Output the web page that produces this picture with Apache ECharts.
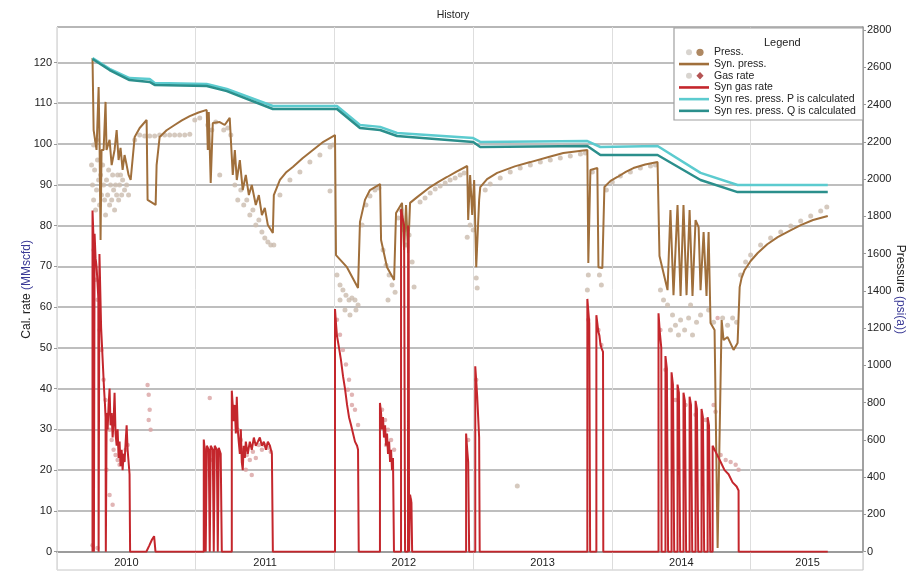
<!DOCTYPE html>
<html><head><meta charset="utf-8">
<script src="https://cdn.jsdelivr.net/npm/echarts@6/dist/echarts.min.js"></script>
<style>html,body{margin:0;padding:0;background:#fff}#c{width:906px;height:573px}</style>
</head><body><div id="c"></div>
<script>
// ---- tick labels ----
const yearLabels = ['2010','2011','2012','2013','2014','2015'];
const yearLabelPos = [2010.5, 2011.5, 2012.5, 2013.5, 2014.5, 2015.41];
const xMin = 2010, xMax = 2015.81;
const rateMax = 128.7, pressMax = 2816;

// ---- Syn gas rate (MMscfd) [year, rate] ----
const synGasRate = [
[2010.256,0],[2010.256,83.7],[2010.260,80],[2010.264,76],[2010.266,0],[2010.270,0],[2010.271,78],[2010.278,72],[2010.285,70],[2010.292,66],[2010.298,62],[2010.300,0],[2010.304,0],[2010.306,73],[2010.312,64],[2010.318,55],[2010.325,50],[2010.332,45],[2010.339,40],[2010.346,36],[2010.350,33],[2010.352,0],[2010.357,0],[2010.358,34],[2010.365,30],[2010.372,36],[2010.379,40],[2010.386,31],[2010.394,34],[2010.401,28],[2010.408,32],[2010.415,39],[2010.422,29],[2010.430,26],[2010.437,30],[2010.444,23],[2010.451,27],[2010.458,21],[2010.466,25],[2010.473,20],[2010.480,24],[2010.487,22],[2010.495,27],[2010.502,31],[2010.509,25],[2010.516,22],[2010.523,19],[2010.527,0],
[2010.644,0],[2010.665,1.5],[2010.685,3],[2010.700,3.8],[2010.710,0],
[2011.058,0],[2011.058,27.5],[2011.065,25],[2011.072,0],[2011.080,0],[2011.080,26],[2011.094,25],[2011.101,0],[2011.108,0],[2011.108,26],[2011.123,25],[2011.130,0],[2011.137,0],[2011.137,26],[2011.152,25],[2011.159,0],[2011.166,0],[2011.166,25.5],[2011.180,24],[2011.188,0],
[2011.260,0],[2011.260,39.5],[2011.274,32],[2011.281,36],[2011.289,29],[2011.296,38],[2011.303,30],[2011.310,27],[2011.318,24],[2011.325,30],[2011.332,22],[2011.339,20],[2011.346,26],[2011.354,23],[2011.361,27],[2011.375,24],[2011.390,27],[2011.404,25],[2011.419,28],[2011.433,26],[2011.448,27],[2011.462,28],[2011.477,26],[2011.491,27],[2011.506,25],[2011.520,27],[2011.535,26],[2011.549,24],[2011.556,0],
[2012.004,0],[2012.004,59.5],[2012.011,56],[2012.018,53],[2012.033,50],[2012.047,47],[2012.062,43],[2012.076,40],[2012.091,36],[2012.105,33],[2012.120,31],[2012.134,29],[2012.148,27],[2012.163,26],[2012.170,25],[2012.175,0],
[2012.328,0],[2012.328,36.5],[2012.336,34],[2012.343,30],[2012.350,33],[2012.357,28],[2012.365,31],[2012.372,26],[2012.379,29],[2012.386,24],[2012.394,27],[2012.401,22],[2012.408,25],[2012.415,20],[2012.422,23],[2012.429,0],
[2012.480,0],[2012.480,84],[2012.490,82],[2012.502,80],[2012.509,0],[2012.530,0],[2012.531,80],[2012.535,75],[2012.538,0],[2012.545,0],[2012.545,14],[2012.555,12],[2012.560,0],
[2012.949,0],[2012.949,29],[2012.957,25],[2012.964,22],[2012.971,0],[2013.015,0],[2013.015,45.5],[2013.022,42],[2013.029,38],[2013.036,33],[2013.043,28],[2013.047,0],
[2013.823,0],[2013.823,62],[2013.830,59],[2013.837,56],[2013.843,0],[2013.888,0],[2013.888,58],[2013.895,56],[2013.902,54],[2013.910,53],[2013.917,51],[2013.924,50],[2013.936,49],[2013.938,0],
[2014.336,0],[2014.336,58.5],[2014.345,54],[2014.356,50],[2014.358,0],
[2014.386,0],[2014.386,48],[2014.396,45],[2014.405,0],
[2014.430,0],[2014.430,44],[2014.440,41],[2014.449,0],
[2014.473,0],[2014.473,41],[2014.483,39],[2014.492,0],
[2014.516,0],[2014.516,39],[2014.526,37],[2014.535,0],
[2014.560,0],[2014.560,38],[2014.570,36],[2014.579,0],
[2014.603,0],[2014.603,37],[2014.613,35],[2014.622,0],
[2014.646,0],[2014.646,35],[2014.656,33],[2014.665,0],
[2014.690,0],[2014.690,33],[2014.700,31],[2014.709,0],
[2014.726,0],[2014.726,26],[2014.755,24],[2014.784,22],[2014.812,20],[2014.841,19],[2014.870,17],[2014.899,16],[2014.913,15],[2014.914,0],[2015.556,0]
];

// ---- Gas rate observations (MMscfd) ----
const gasRateObs = [
[2010.256,1.6],[2010.264,74],[2010.278,66.7],[2010.292,61.8],[2010.307,54.4],[2010.321,49.5],[2010.336,42.2],[2010.350,37.2],[2010.365,33.6],[2010.379,29.9],[2010.394,27.4],[2010.408,25.0],[2010.422,23.7],[2010.437,22.5],[2010.451,21.3],[2010.466,23.7],[2010.480,22.5],[2010.495,25.0],[2010.509,26.2],[2010.379,13.9],[2010.401,11.5],[2010.357,20.1],[2010.292,0.9],
[2010.653,40.9],[2010.661,38.5],[2010.668,34.8],[2010.675,29.9],[2010.661,32.3],
[2011.101,37.7],[2011.072,25.0],[2011.123,22.5],[2011.166,23.7],
[2011.282,34.8],[2011.303,29.9],[2011.325,27.4],[2011.346,25.0],[2011.368,23.7],[2011.390,22.5],[2011.412,24.5],[2011.433,23.0],[2011.455,26.2],[2011.477,25.0],[2011.498,26.2],[2011.520,25.5],[2011.541,24.5],[2011.361,20.1],[2011.404,18.8],
[2012.018,56.9],[2012.040,53.2],[2012.061,49.5],[2012.083,45.9],[2012.105,42.2],[2012.126,38.5],[2012.148,34.8],[2012.170,31.1],[2012.097,39.7],[2012.126,36.0],
[2012.343,34.8],[2012.365,32.3],[2012.386,29.9],[2012.408,27.4],[2012.430,25.0],[2012.372,26.2],
[2012.545,12.7],[2012.964,27.4],[2013.022,42.2],
[2013.830,56.9],[2013.903,54.4],[2013.924,50.7],
[2014.350,54.4],[2014.386,44.6],[2014.458,37.2],[2014.531,36.0],[2014.603,33.6],[2014.675,32.3],[2014.733,36.0],[2014.747,34.3],[2014.762,57.3],[2014.784,23.7],[2014.820,22.5],[2014.856,22.0],[2014.892,21.3],[2014.913,20.1]
];

// ---- Syn. press. (psia) ----
const synPress = [
[2010.256,2650],[2010.264,2263],[2010.285,2156],[2010.300,2494],[2010.307,2183],[2010.314,1673],[2010.321,2156],[2010.336,2156],[2010.350,2414],[2010.357,2156],[2010.379,2210],[2010.394,2075],[2010.415,2156],[2010.430,2263],[2010.444,2102],[2010.458,2167],[2010.473,2049],[2010.487,2129],[2010.502,2075],[2010.516,2022],[2010.531,1995],[2010.560,2226],[2010.596,2274],[2010.646,2317],[2010.653,1888],[2010.711,1861],[2010.718,2075],[2010.740,2226],[2010.790,2262],[2010.848,2290],[2010.900,2315],[2010.957,2338],[2011.020,2357],[2011.079,2371],
[2011.087,2156],[2011.094,2360],[2011.108,1979],[2011.123,2301],[2011.173,2306],[2011.209,2290],[2011.245,2328],[2011.267,2022],[2011.282,2156],[2011.296,1995],[2011.318,2102],[2011.339,1941],[2011.361,2022],[2011.383,1914],[2011.404,1968],[2011.433,1861],[2011.455,1914],[2011.477,1807],[2011.498,1845],[2011.520,1753],[2011.556,1711],
[2011.563,1914],[2011.607,1995],[2011.650,2035],[2011.700,2065],[2011.770,2112],[2011.845,2156],[2011.920,2200],[2012.004,2236],
[2012.011,1592],[2012.090,1527],[2012.170,1415],[2012.184,1770],[2012.220,1888],[2012.256,1941],[2012.329,1973],[2012.336,1673],[2012.379,1527],[2012.430,1458],[2012.444,1818],[2012.487,1872],[2012.502,1619],[2012.516,1861],[2012.531,1603],[2012.545,1872],
[2012.596,1903],[2012.690,1957],[2012.750,1985],[2012.812,2011],[2012.880,2040],[2012.957,2070],
[2012.964,1780],[2012.978,2022],[2012.993,1807],[2013.007,1995],[2013.022,1527],[2013.043,1888],
[2013.051,1957],[2013.100,2000],[2013.173,2033],[2013.300,2068],[2013.412,2091],[2013.550,2120],[2013.650,2140],[2013.823,2156],
[2013.830,1549],[2013.845,2049],[2013.895,2059],[2013.903,1527],[2013.931,1522],
[2013.946,1957],[2013.990,1990],[2014.040,2011],[2014.100,2038],[2014.155,2059],[2014.240,2078],[2014.329,2091],
[2014.343,1587],[2014.401,1404],[2014.422,1834],[2014.444,1377],[2014.473,1861],[2014.495,1372],[2014.516,1861],[2014.538,1377],[2014.560,1834],[2014.581,1372],[2014.603,1780],[2014.625,1742],[2014.639,1404],[2014.661,1716],[2014.682,1372],[2014.697,1716],[2014.711,1227],[2014.740,1190],[2014.762,20],[2014.776,20],[2014.791,1243],[2014.805,1136],[2014.834,1152],[2014.877,1083],[2014.906,1120],
[2014.921,1420],[2014.935,1470],[2014.957,1512],[2015.000,1560],[2015.051,1603],[2015.120,1650],[2015.195,1688],[2015.280,1722],[2015.361,1753],[2015.450,1780],[2015.556,1802]
];

// ---- Press. observations (psia) ----
const pressObs = [
[2010.249,2075],[2010.256,1968],[2010.264,1888],[2010.271,2049],[2010.278,1834],[2010.285,1941],[2010.292,2102],[2010.300,1995],[2010.307,1861],[2010.314,2022],[2010.321,1914],[2010.329,2075],[2010.336,1968],[2010.343,1888],[2010.350,1807],[2010.357,1995],[2010.365,1914],[2010.372,2049],[2010.379,1861],[2010.386,1968],[2010.394,1888],[2010.401,2022],[2010.408,1941],[2010.415,1834],[2010.422,1968],[2010.430,1914],[2010.437,2022],[2010.444,1888],[2010.451,1968],[2010.458,2022],[2010.466,1914],[2010.473,1995],[2010.487,1941],[2010.502,1968],[2010.516,1914],[2010.264,2183],[2010.285,2210],
[2010.560,2210],[2010.596,2236],[2010.632,2231],[2010.668,2231],[2010.704,2231],[2010.740,2236],[2010.776,2236],[2010.812,2236],[2010.848,2236],[2010.884,2236],[2010.921,2236],[2010.957,2241],[2010.993,2317],[2011.029,2328],
[2011.087,2290],[2011.116,2263],[2011.144,2306],[2011.173,2022],[2011.202,2263],[2011.231,2274],[2011.253,2236],
[2011.282,1968],[2011.303,1888],[2011.325,1941],[2011.346,1861],[2011.368,1888],[2011.390,1807],[2011.412,1834],[2011.433,1753],[2011.455,1780],[2011.477,1716],[2011.498,1683],[2011.520,1662],[2011.541,1646],[2011.563,1646],
[2011.607,1914],[2011.679,1995],[2011.751,2038],[2011.823,2091],[2011.895,2129],[2011.968,2172],[2011.989,2183],[2011.968,1936],
[2012.018,1485],[2012.040,1431],[2012.061,1404],[2012.083,1377],[2012.105,1351],[2012.126,1361],[2012.148,1351],[2012.170,1324],[2012.076,1297],[2012.112,1270],[2012.155,1297],[2012.040,1351],
[2012.199,1753],[2012.227,1861],[2012.256,1909],[2012.292,1941],[2012.321,1952],
[2012.350,1619],[2012.372,1538],[2012.394,1485],[2012.415,1431],[2012.437,1393],[2012.386,1351],
[2012.459,1791],[2012.480,1834],[2012.502,1727],[2012.516,1646],[2012.538,1700],[2012.560,1555],[2012.574,1420],
[2012.617,1877],[2012.653,1898],[2012.690,1925],[2012.726,1946],[2012.762,1962],[2012.798,1979],[2012.834,1995],[2012.870,2006],[2012.906,2022],[2012.935,2033],
[2012.957,1688],[2012.978,1753],[2013.000,1727],[2013.022,1469],[2013.029,1415],
[2013.087,1941],[2013.123,1973],[2013.195,2006],[2013.267,2038],[2013.339,2059],[2013.412,2075],[2013.484,2091],[2013.556,2102],[2013.628,2113],[2013.700,2124],[2013.773,2134],[2013.809,2140],
[2013.318,353],
[2013.823,1404],[2013.830,1485],[2013.859,2038],[2013.910,1485],[2013.924,1431],
[2013.960,1941],[2014.003,1984],[2014.061,2017],[2014.133,2038],[2014.205,2059],[2014.278,2070],[2014.314,2075],
[2014.350,1404],[2014.372,1351],[2014.401,1324],[2014.422,1190],[2014.437,1270],[2014.458,1216],[2014.480,1163],[2014.495,1243],[2014.524,1190],[2014.553,1254],[2014.567,1324],[2014.581,1163],[2014.610,1232],[2014.639,1270],[2014.697,1297],[2014.733,1232],
[2014.798,1254],[2014.834,1216],[2014.870,1254],[2014.899,1232],
[2014.928,1485],[2014.964,1555],[2015.000,1592],[2015.072,1646],[2015.144,1683],[2015.217,1716],[2015.289,1748],[2015.361,1775],[2015.433,1802],[2015.505,1829],[2015.549,1850]
];

// ---- Syn res. press. (psia) ----
const resPressP = [
[2010.256,2650],[2010.379,2591],[2010.523,2542],[2010.668,2537],[2010.704,2515],[2011.079,2510],[2011.224,2483],[2011.556,2392],[2012.018,2392],[2012.184,2290],[2012.329,2280],[2012.451,2247],[2013.000,2220],[2013.051,2199],[2013.823,2204],[2013.917,2172],[2014.329,2177],[2014.639,2033],[2014.906,1968],[2015.556,1968]
];
const resPressQ = [
[2010.256,2644],[2010.379,2585],[2010.523,2531],[2010.668,2521],[2010.704,2505],[2011.079,2499],[2011.224,2472],[2011.556,2376],[2012.018,2376],[2012.184,2274],[2012.329,2263],[2012.451,2231],[2013.000,2199],[2013.051,2172],[2013.823,2177],[2013.917,2129],[2014.329,2129],[2014.639,1995],[2014.906,1930],[2015.556,1930]
];

const FONT = 'Liberation Sans, Arial, Helvetica, sans-serif';
const svgIcon = s => 'image://data:image/svg+xml;charset=utf-8,' + encodeURIComponent(s);
const pressIcon = svgIcon('<svg xmlns="http://www.w3.org/2000/svg" width="30" height="8" viewBox="0 0 30 8"><circle cx="10" cy="4" r="3" fill="#cfcac4"/><circle cx="21" cy="4" r="3.6" fill="#9b6b3b"/></svg>');
const gasIcon = svgIcon('<svg xmlns="http://www.w3.org/2000/svg" width="30" height="8" viewBox="0 0 30 8"><circle cx="10" cy="4" r="3" fill="#cfcac4"/><path d="M21,0.2 L24.6,4 L21,7.8 L17.4,4 Z" fill="#a32a2a"/></svg>');
const lineIcon = 'path://M0,0 L30,0 L30,2.6 L0,2.6 Z';

const chart = echarts.init(document.getElementById('c'), null, {renderer: 'canvas'});
chart.setOption({
  animation: false,
  backgroundColor: '#fff',
  textStyle: {fontFamily: FONT},
  title: [
    {text: 'History', left: 'center', top: 5, textStyle: {fontSize: 10.5, fontWeight: 'normal', color: '#222', fontFamily: FONT}},
    {text: 'Legend', left: 759, top: 32, z: 60, textStyle: {fontSize: 11, fontWeight: 'normal', color: '#222', fontFamily: FONT}}
  ],
  graphic: [
    {type: 'rect', z: -1, silent: true, shape: {x: 57, y: 27, width: 806, height: 543}, style: {fill: 'none', stroke: '#c6c6c6', lineWidth: 1}},
    {type: 'rect', z: 50, silent: true, shape: {x: 674, y: 28, width: 189, height: 92}, style: {fill: '#fff', stroke: '#a0a0a0', lineWidth: 1.2}}
  ],
  legend: {
    z: 60, orient: 'vertical', left: 679, top: 46.5, padding: 0,
    itemWidth: 30, itemHeight: 8, itemGap: 0,
    textStyle: {fontSize: 10.5, color: '#222', lineHeight: 11.7, fontFamily: FONT},
    data: [
      {name: 'Press.', icon: pressIcon},
      {name: 'Syn. press.', icon: lineIcon},
      {name: 'Gas rate', icon: gasIcon},
      {name: 'Syn gas rate', icon: lineIcon},
      {name: 'Syn res. press. P is calculated', icon: lineIcon},
      {name: 'Syn res. press. Q is calculated', icon: lineIcon}
    ]
  },
  grid: {left: 57, right: 43, top: 27, bottom: 21.3, containLabel: false, outerBoundsMode: 'none'},
  xAxis: {
    type: 'value', min: xMin, max: xMax, interval: 1,
    axisLine: {show: true, onZero: false, lineStyle: {color: '#9c9c9c', width: 2}},
    axisTick: {show: true, length: 18.5, lineStyle: {color: '#dcdcdc', width: 1}},
    axisLabel: {
      customValues: yearLabelPos, margin: 6, fontSize: 11, color: '#222', fontFamily: FONT,
      formatter: v => {
        let best = 0;
        yearLabelPos.forEach((p, i) => { if (Math.abs(p - v) < Math.abs(yearLabelPos[best] - v)) best = i; });
        return yearLabels[best];
      }
    },
    splitLine: {show: true, lineStyle: {color: '#dedede', width: 1}}
  },
  yAxis: [
    {
      type: 'value', position: 'left', min: 0, max: rateMax, interval: 10,
      name: '{a|Cal. rate }{b|(MMscfd)}', nameLocation: 'middle', nameRotate: 90, nameGap: 24, nameMoveOverlap: false,
      nameTextStyle: {rich: {a: {fontSize: 12, color: '#222', fontFamily: FONT}, b: {fontSize: 12, color: '#3a3a96', fontFamily: FONT}}},
      axisLine: {show: false},
      axisTick: {show: true, length: 3, lineStyle: {color: '#999'}},
      axisLabel: {showMaxLabel: false, margin: 5, fontSize: 11, color: '#222', fontFamily: FONT, formatter: v => String(Math.round(v))},
      splitLine: {show: true, lineStyle: {color: '#a8a8a8', width: 1.5}}
    },
    {
      type: 'value', position: 'right', min: 0, max: pressMax, interval: 200,
      name: '{a|Pressure }{b|(psi(a))}', nameLocation: 'middle', nameRotate: -90, nameGap: 31, nameMoveOverlap: false,
      nameTextStyle: {rich: {a: {fontSize: 12, color: '#222', fontFamily: FONT}, b: {fontSize: 12, color: '#3a3a96', fontFamily: FONT}}},
      axisLine: {show: true, lineStyle: {color: '#8c8c8c', width: 1.5}},
      axisTick: {show: true, length: 3, lineStyle: {color: '#999'}},
      axisLabel: {showMaxLabel: false, margin: 4, fontSize: 11, color: '#222', fontFamily: FONT, formatter: v => String(Math.round(v))},
      splitLine: {show: false}
    }
  ],
  series: [
    {name: 'Press.', type: 'scatter', yAxisIndex: 1, data: pressObs, symbol: 'circle', symbolSize: 5, itemStyle: {color: '#cbbcae'}, z: 2},
    {name: 'Gas rate', type: 'scatter', yAxisIndex: 0, data: gasRateObs, symbol: 'circle', symbolSize: 4.5, itemStyle: {color: '#d9a3a3'}, z: 2},
    {name: 'Syn. press.', type: 'line', yAxisIndex: 1, data: synPress, symbol: 'none', showSymbol: false, lineStyle: {color: '#a06f3b', width: 2}, itemStyle: {color: '#a06f3b'}, z: 3},
    {name: 'Syn gas rate', type: 'line', yAxisIndex: 0, data: synGasRate, symbol: 'none', showSymbol: false, lineStyle: {color: '#c4262c', width: 2}, itemStyle: {color: '#c4262c'}, z: 3},
    {name: 'Syn res. press. P is calculated', type: 'line', yAxisIndex: 1, data: resPressP, symbol: 'none', showSymbol: false, lineStyle: {color: '#5ccbcf', width: 2.5}, itemStyle: {color: '#5ccbcf'}, z: 4},
    {name: 'Syn res. press. Q is calculated', type: 'line', yAxisIndex: 1, data: resPressQ, symbol: 'none', showSymbol: false, lineStyle: {color: '#2b8f8c', width: 2.5}, itemStyle: {color: '#2b8f8c'}, z: 4}
  ]
});
</script>
</body></html>
